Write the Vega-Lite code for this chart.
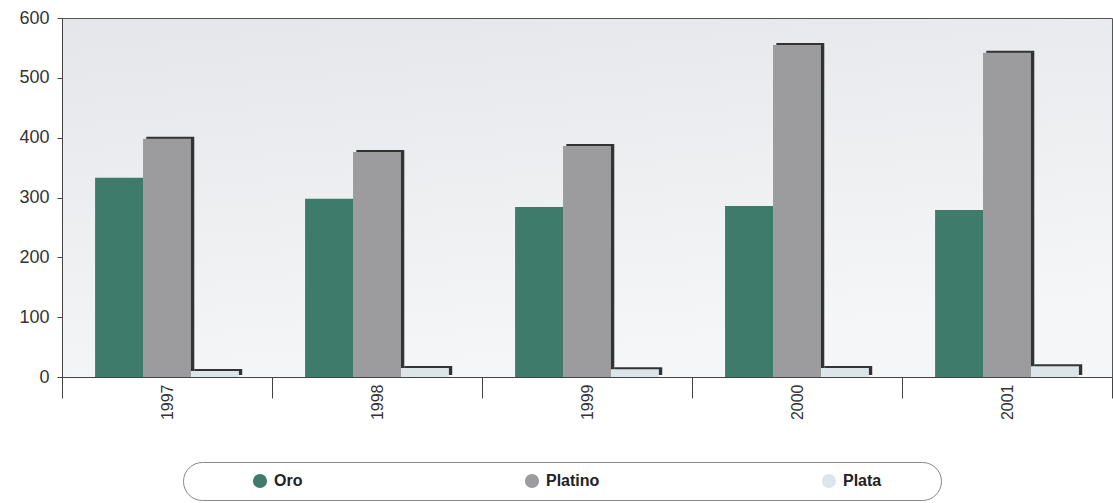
{
  "$schema": "https://vega.github.io/schema/vega-lite/v6.json",
  "width": 1050,
  "height": 359,
  "autosize": {"type": "none"},
  "padding": {"left": 62, "top": 18, "right": 1, "bottom": 126},
  "background": "white",
  "config": {
    "font": "Liberation Sans",
    "view": {
      "stroke": "#555555",
      "strokeWidth": 1,
      "fill": {"gradient": "linear", "x1": 0, "y1": 0, "x2": 0.3, "y2": 1, "stops": [{"offset": 0, "color": "#e4e6ea"}, {"offset": 1, "color": "#f5f6f7"}]}
    }
  },
  "data": {
    "values": [
      {"year": "1997", "metal": "Oro", "value": 333},
      {"year": "1997", "metal": "Platino", "value": 398},
      {"year": "1997", "metal": "Plata", "value": 10},
      {"year": "1998", "metal": "Oro", "value": 298},
      {"year": "1998", "metal": "Platino", "value": 376},
      {"year": "1998", "metal": "Plata", "value": 15},
      {"year": "1999", "metal": "Oro", "value": 284},
      {"year": "1999", "metal": "Platino", "value": 386},
      {"year": "1999", "metal": "Plata", "value": 13},
      {"year": "2000", "metal": "Oro", "value": 286},
      {"year": "2000", "metal": "Platino", "value": 555},
      {"year": "2000", "metal": "Plata", "value": 15},
      {"year": "2001", "metal": "Oro", "value": 279},
      {"year": "2001", "metal": "Platino", "value": 542},
      {"year": "2001", "metal": "Plata", "value": 18}
    ]
  },
  "encoding": {
    "x": {
      "field": "year", "type": "nominal",
      "scale": {"paddingInner": 0, "paddingOuter": 0},
      "axis": {
        "title": null, "labelAngle": -90, "labelFontSize": 16, "labelColor": "#333333",
        "labelPadding": -14, "tickBand": "extent", "tickSize": 21, "tickColor": "#444444",
        "domainColor": "#444444", "labelBaseline": "middle", "labelAlign": "right"
      }
    },
    "y": {
      "field": "value", "type": "quantitative",
      "scale": {"domain": [0, 600], "nice": false},
      "axis": {
        "title": null, "grid": false, "values": [0, 100, 200, 300, 400, 500, 600],
        "labelFontSize": 18, "labelColor": "#333333", "tickSize": 5, "tickColor": "#444444",
        "domainColor": "#444444", "labelPadding": 8
      }
    }
  },
  "resolve": {"scale": {"xOffset": "independent"}},
  "layer": [
    {
      "transform": [{"filter": "datum.metal != 'Oro'"}],
      "mark": {"type": "bar", "color": "#333333", "yOffset": -2},
      "encoding": {
        "xOffset": {"field": "metal", "type": "nominal", "scale": {"domain": ["Oro", "Platino", "Plata"], "paddingInner": 0, "paddingOuter": 0.69, "align": 0.55}}
      }
    },
    {
      "mark": {"type": "bar"},
      "encoding": {
        "xOffset": {"field": "metal", "type": "nominal", "scale": {"domain": ["Oro", "Platino", "Plata"], "paddingInner": 0, "paddingOuter": 0.69}},
        "color": {
          "field": "metal", "type": "nominal",
          "scale": {"domain": ["Oro", "Platino", "Plata"], "range": ["#3e7b6a", "#9c9c9e", "#dce5ea"]},
          "legend": {
            "title": "\u00a0", "titleOrient": "left", "titlePadding": 58,
            "orient": "none", "legendX": 121, "legendY": 444,
            "direction": "horizontal", "symbolType": "circle", "symbolSize": 200,
            "symbolStrokeWidth": 0, "labelFontSize": 16, "labelFontWeight": "bold",
            "labelColor": "#222222", "columnPadding": 221, "labelOffset": 6,
            "padding": 11, "strokeColor": "#888888", "fillColor": "white", "cornerRadius": 20,
            "labelExpr": "datum.label == 'Plata' ? 'Plata\u2800\u2800\u2800\u2800' : datum.label"
          }
        }
      }
    }
  ]
}
